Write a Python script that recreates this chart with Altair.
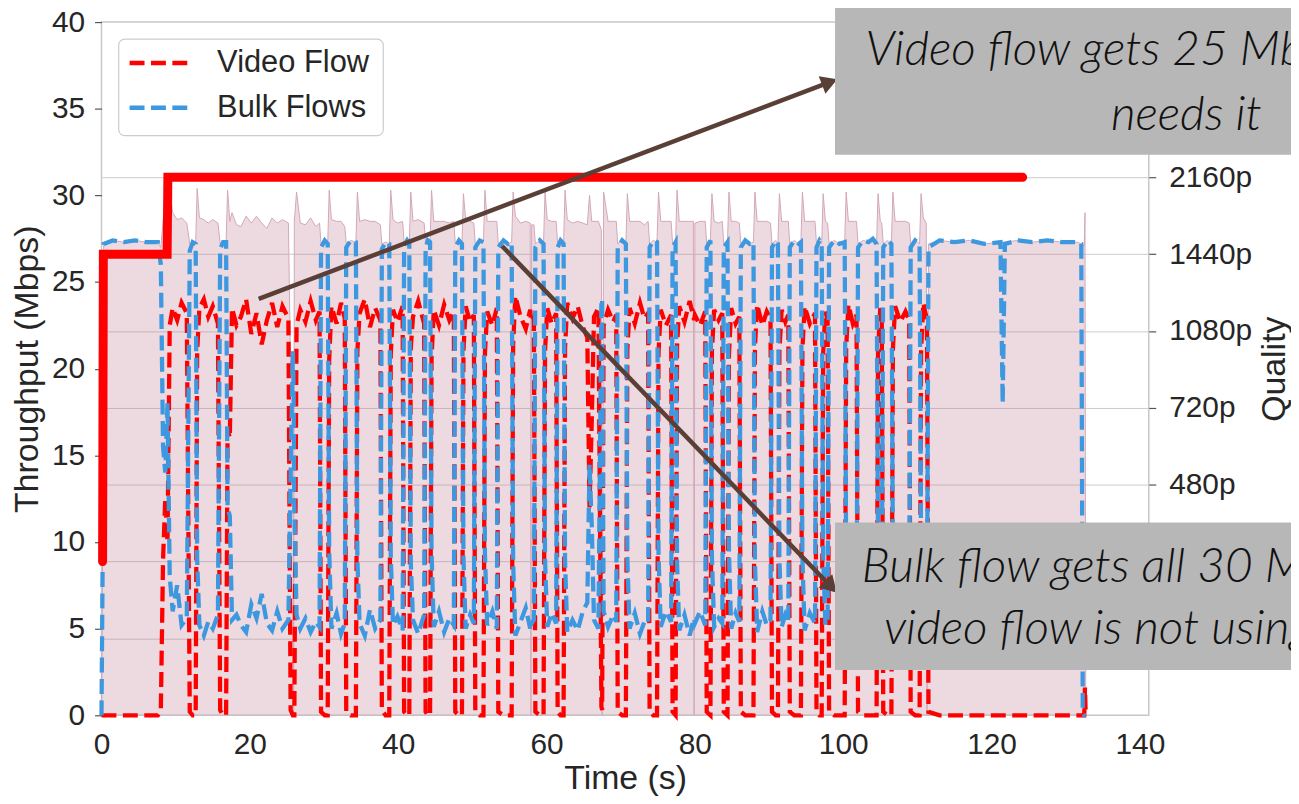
import altair as alt
import pandas as pd

# ------------------------------------------------------------------ data
time_s = [
    0.0, 0.15, 0.3, 1.5, 3.0, 4.5, 6.0, 7.6,
    8.0, 8.3, 8.6, 8.9, 9.2, 9.6, 10.2, 10.8, 11.5,
    11.9, 12.3, 12.7,
    12.9, 13.2, 13.8, 14.4, 15.0, 15.7,
    16.0, 16.4, 16.8,
    17.0, 17.3, 17.6, 18.2, 18.8, 19.5, 20.2, 20.9, 21.6, 22.3, 23.0, 23.7, 24.4, 25.2,
    25.5, 25.8, 25.9, 26.0, 26.3,
    26.8, 27.5, 28.2, 28.9, 29.4,
    29.6, 30.1, 30.5,
    30.7, 31.0, 31.7, 32.3, 32.8,
    33.0, 33.6, 34.3,
    34.5, 34.8, 35.5, 36.2, 36.9, 37.6,
    37.8, 38.3, 38.8,
    39.0, 39.3, 39.9, 40.6,
    40.8, 41.2, 41.5,
    41.7, 42.0, 42.7, 43.5,
    43.7, 44.0, 44.3,
    44.5, 44.8, 45.5, 46.2, 46.9, 47.5,
    47.7, 48.2, 48.6,
    48.8, 49.1, 49.7, 50.2,
    50.4, 51.0, 51.5,
    51.7, 52.0, 52.7, 53.3,
    53.5, 54.2, 54.8, 55.3,
    55.5, 55.8, 56.5, 57.2, 57.8, 57.9, 58.0, 58.3,
    58.5, 59.1, 59.6,
    59.8, 60.1, 60.7, 61.3,
    61.5, 61.9, 62.3,
    62.5, 62.8, 63.5, 64.2, 64.9, 65.5, 65.8, 66.1, 66.4, 67.0, 67.4, 67.5, 67.7, 68.3, 69.0, 69.4,
    69.6, 70.2, 70.7,
    70.9, 71.2, 71.9, 72.6, 73.2, 73.7,
    73.9, 74.4, 74.9,
    75.1, 75.4, 76.1, 76.8,
    77.0, 77.4,
    77.6, 77.9, 78.6, 79.3, 79.8, 79.9, 80.0, 80.7, 81.4,
    81.6, 82.1,
    82.3, 82.6, 83.2, 83.7,
    83.9, 84.4,
    84.6, 84.9, 85.5, 86.0,
    86.2, 86.8, 87.4, 87.9,
    88.1, 88.4, 89.1, 89.7, 90.2,
    90.4, 90.9, 91.2,
    91.4, 91.7, 92.2, 92.6,
    92.8, 93.4, 94.0, 94.3,
    94.5, 94.8, 95.5, 96.2,
    96.4, 96.8, 97.1,
    97.3, 97.6, 97.9,
    98.1, 98.8, 99.5, 100.2,
    100.4, 100.7, 101.3, 101.8,
    102.0, 102.7, 103.4, 104.0, 104.5,
    104.7, 105.0, 105.2,
    105.4, 106.0, 106.5,
    106.7, 107.0, 107.7, 108.4, 108.9,
    109.1, 109.7, 110.3,
    110.5, 110.8, 111.2, 111.3,
    111.5, 113.0, 115.0, 117.0, 119.0, 121.2, 121.5, 121.8, 123.5, 125.5, 127.5, 129.5, 131.5, 132.1, 132.3, 132.5, 132.6, 132.7,
]

video_mbps = [
    0, 0, 0, 0, 0, 0, 0, 0,
    0.3, 9.0, 12.5, 10.0, 22.5, 23.5, 22.8, 23.8, 23.2,
    0.2, 0, 0,
    21.0, 23.5, 24.0, 23.0, 23.6, 22.6,
    0.3, 0, 0,
    16.5, 16.0, 23.5, 22.5, 23.0, 24.0, 22.0, 23.2, 21.4, 22.8, 23.8, 22.4, 23.6, 22.9,
    0.3, 0, 0, 0, 22.5,
    23.4, 22.7, 23.9, 22.8, 23.3,
    0.2, 0, 0,
    20.5, 23.6, 22.6, 23.8, 22.9,
    0.2, 0, 0,
    21.0, 23.2, 24.0, 22.4, 23.5, 22.8,
    0.3, 0, 0,
    20.8, 23.4, 22.7, 23.6,
    0.2, 0, 0,
    21.2, 23.0, 23.9, 22.6,
    0.2, 0, 0,
    20.6, 23.4, 22.5, 23.7, 22.8, 23.3,
    0.2, 0, 0,
    21.0, 23.6, 22.7, 23.1,
    0.2, 0, 0,
    20.9, 23.3, 22.5, 23.5,
    0.2, 0, 0, 0,
    21.4, 24.2, 23.0, 22.3, 23.4, 22.8, 23.0, 22.9,
    0.2, 0, 0,
    21.0, 23.5, 22.6, 23.2,
    0.2, 0, 0,
    21.2, 23.8, 22.9, 23.6, 22.4, 21.8, 12.0, 17.0, 23.0, 23.5, 0.5, 0.3, 22.5, 23.4, 22.7, 23.1,
    0.2, 0, 0,
    21.1, 23.5, 22.6, 23.8, 22.9, 23.2,
    0.2, 0, 0,
    20.9, 23.4, 22.5, 23.1,
    0.2, 0,
    21.3, 23.6, 22.7, 23.9, 23.0, 22.8, 23.1, 22.5, 23.3,
    0.2, 0,
    21.0, 23.4, 22.8, 23.2,
    0.2, 0,
    20.8, 23.5, 22.6, 23.0,
    0.2, 0, 0, 0,
    21.2, 23.7, 22.5, 23.3, 22.9,
    0.2, 0, 0,
    21.0, 23.4, 22.7, 23.1,
    0.2, 0, 0, 0,
    21.1, 23.6, 22.6, 23.2,
    0.2, 0, 0,
    20.9, 23.3, 22.8,
    0.2, 0, 0, 0,
    21.2, 23.7, 22.6, 23.1,
    0.2, 0, 0, 0, 0,
    21.0, 23.5, 22.9,
    0.2, 0, 0,
    21.1, 23.6, 22.7, 23.3, 22.8,
    0.2, 0, 0,
    21.0, 23.8, 23.0, 22.5,
    0.2, 0, 0, 0, 0, 0, 0, 0, 0, 0, 0, 0, 0, 0, 0, 0, 1.6, 0,
]

bulk_mbps = [
    0, 8.5, 27.2, 27.4, 27.3, 27.4, 27.3, 27.3,
    26.0, 15.5, 14.0, 18.0, 8.0, 6.0, 7.5, 5.2, 5.6,
    26.8, 27.3, 27.2,
    9.0, 5.2, 4.6, 5.4, 5.0, 5.8,
    26.9, 27.3, 27.3,
    12.0, 11.5, 5.5, 5.8, 5.2, 4.8, 6.4, 5.6, 7.0, 5.3, 4.9, 6.0, 5.0, 5.5,
    14.0, 21.0, 19.0, 12.0, 5.8,
    5.0, 5.6, 4.8, 5.4, 5.1,
    27.0, 27.4, 27.2,
    9.5, 5.0, 5.9, 4.7, 5.3,
    27.0, 27.4, 27.3,
    9.0, 5.3, 4.6, 6.1, 5.0, 5.5,
    26.9, 27.3, 27.2,
    9.2, 5.2, 5.7, 4.9,
    27.1, 27.4, 27.2,
    8.8, 5.5, 4.7, 5.8,
    27.0, 27.4, 27.3,
    9.4, 5.1, 6.0, 4.8, 5.6, 5.2,
    27.0, 27.4, 27.2,
    9.1, 5.0, 5.8, 5.3,
    27.0, 27.4, 27.3,
    9.3, 5.2, 6.0, 5.0,
    27.0, 27.4, 27.2, 27.3,
    8.8, 4.6, 5.4, 6.2, 5.0, 5.4, 5.3, 5.5,
    27.0, 27.4, 27.2,
    9.0, 5.1, 5.9, 5.3,
    27.0, 27.4, 27.2,
    8.9, 4.8, 5.5, 4.9, 6.0, 6.5, 14.5, 11.0, 5.5, 5.0, 24.0, 24.0, 6.0, 5.1, 5.8, 5.4,
    27.0, 27.4, 27.2,
    9.0, 5.0, 5.9, 4.7, 5.4, 5.3,
    27.0, 27.4, 27.3,
    9.3, 5.1, 6.0, 5.4,
    27.0, 27.3,
    8.8, 4.9, 5.8, 4.6, 5.5, 5.6, 5.3, 6.0, 5.2,
    27.0, 27.4,
    9.1, 5.1, 5.6, 5.3,
    27.0, 27.3,
    9.4, 5.0, 5.9, 5.4,
    27.0, 27.4, 27.2, 27.3,
    8.9, 4.8, 6.0, 5.2, 5.5,
    27.0, 27.4, 27.2,
    9.0, 5.1, 5.8, 5.4,
    27.0, 27.4, 27.2, 27.3,
    9.1, 4.9, 5.9, 5.3,
    27.0, 27.4, 27.2,
    9.2, 5.2, 5.6,
    27.0, 27.4, 27.2, 27.3,
    8.9, 4.8, 5.9, 5.4,
    27.0, 27.4, 27.3, 27.5, 27.2,
    9.0, 5.0, 5.5,
    27.0, 27.4, 27.2,
    9.1, 4.9, 5.8, 5.2, 5.6,
    27.0, 27.4, 27.2,
    9.1, 4.9, 5.4, 5.6,
    27.0, 27.4, 27.3, 27.4, 27.2, 27.3, 18.0, 27.2, 27.4, 27.3, 27.4, 27.3, 27.3, 27.2, 0.2, 0, 0, 0,
]

total_mbps = [
    0, 8.5, 27.2, 27.4, 27.3, 27.4, 27.3, 27.3,
    27.0, 28.5, 29.5, 28.8, 30.3, 29.0, 28.6, 28.7, 28.4,
    27.2, 27.3, 27.2,
    30.4, 28.7, 28.6, 28.4, 28.6, 28.4,
    27.2, 27.3, 27.3,
    30.3, 28.5, 29.0, 28.3, 28.2, 28.8, 28.4, 28.8, 28.4, 28.1, 28.7, 28.4, 28.6, 28.4,
    20.0, 21.0, 0, 28.5, 30.2,
    28.4, 28.3, 28.7, 28.2, 28.4,
    27.2, 27.4, 27.2,
    30.3, 28.6, 28.5, 28.5, 28.2,
    27.2, 27.4, 27.3,
    30.2, 28.5, 28.6, 28.5, 28.5, 28.3,
    27.2, 27.3, 27.2,
    30.3, 28.6, 28.4, 28.5,
    27.3, 27.4, 27.2,
    30.2, 28.5, 28.6, 28.4,
    27.2, 27.4, 27.3,
    30.3, 28.5, 28.5, 28.5, 28.4, 28.5,
    27.2, 27.4, 27.2,
    30.1, 28.6, 28.5, 28.4,
    27.2, 27.4, 27.3,
    30.3, 28.5, 28.5, 28.5,
    27.2, 27.4, 27.2, 27.3,
    30.2, 28.8, 28.4, 28.5, 28.4, 0, 28.3, 28.3,
    27.2, 27.4, 27.2,
    30.2, 28.6, 28.5, 28.5,
    27.2, 27.4, 27.2,
    30.3, 28.6, 28.4, 28.5, 28.4, 28.3, 30.0, 28.5, 28.5, 28.5, 28.0, 0, 30.2, 28.5, 28.5, 28.5,
    27.2, 27.4, 27.2,
    30.1, 28.5, 28.5, 28.5, 28.3, 28.5,
    27.2, 27.4, 27.3,
    30.2, 28.5, 28.5, 28.5,
    27.2, 27.3,
    30.3, 28.5, 28.5, 28.5, 28.5, 0, 28.4, 28.5, 28.5,
    27.2, 27.4,
    30.1, 28.5, 28.4, 28.5,
    27.2, 27.3,
    30.2, 28.5, 28.5, 28.4,
    27.2, 27.4, 27.2, 27.3,
    30.2, 28.5, 28.5, 28.5, 28.4,
    27.2, 27.4, 27.2,
    30.1, 28.5, 28.5, 28.5,
    27.2, 27.4, 27.2, 27.3,
    30.2, 28.5, 28.5, 28.5,
    27.2, 27.4, 27.2,
    30.1, 28.5, 28.4,
    27.2, 27.4, 27.2, 27.3,
    30.2, 28.5, 28.5, 28.5,
    27.2, 27.4, 27.3, 27.5, 27.2,
    30.1, 28.5, 28.4,
    27.2, 27.4, 27.2,
    30.2, 28.5, 28.5, 28.5, 28.4,
    27.2, 27.4, 27.2,
    30.1, 28.7, 28.4, 0,
    27.2, 27.4, 27.3, 27.4, 27.2, 27.3, 27.3, 27.3, 27.4, 27.3, 27.4, 27.3, 27.3, 27.2, 27.1, 27.1, 29.0, 0,
]

quality_time_s = [0.15, 0.25, 8.85, 8.95, 124.2]
quality_level = [2, 6, 6, 7, 7]
quality_ticks = [1, 2, 3, 4, 5, 6, 7]
quality_labels = ["240p", "360p", "480p", "720p", "1080p", "1440p", "2160p"]

throughput_ticks = [0, 5, 10, 15, 20, 25, 30, 35, 40]
time_ticks = [0, 20, 40, 60, 80, 100, 120, 140]

series_names = ["Video Flow", "Bulk Flows"]
series_colors = ["#ff0000", "#3d98e0"]

note_top_lines = ["Video flow gets 25 Mbps when it", "needs it"]
note_bottom_lines = ["Bulk flow gets all 30 Mbps when", "video flow is not using it"]

assert len(time_s) == len(video_mbps) == len(bulk_mbps) == len(total_mbps)

# ------------------------------------------------------------------ style
FONT = "Liberation Sans"
TXT = "#262626"
X_DOMAIN = [0, 141.2]
Y_DOMAIN = [0, 40]
Q_DOMAIN = [0, 9.02]
DASH = [15, 6.5]
BROWN = "#5a3f36"

df = pd.DataFrame({"t": time_s, "video": video_mbps, "bulk": bulk_mbps, "total": total_mbps})
qdf = pd.DataFrame({"t": quality_time_s, "q": quality_level, "i": list(range(len(quality_time_s)))})

x_axis = alt.Axis(values=time_ticks, title="Time (s)", grid=False, domain=False, ticks=False,
                  tickSize=0, labelPadding=14, labelFlush=False, labelFontSize=30, labelFont=FONT,
                  labelColor=TXT, titleFontSize=34, titleFont=FONT, titleColor=TXT,
                  titleFontWeight="normal", titlePadding=3)
y_axis = alt.Axis(values=throughput_ticks, title="Throughput (Mbps)", grid=False, domain=False,
                  tickSize=7, tickColor="#555555", tickWidth=1.2, labelPadding=10, labelFontSize=30,
                  labelFont=FONT, labelColor=TXT, titleFontSize=34, titleFont=FONT, titleColor=TXT,
                  titleFontWeight="normal", titlePadding=7)

x_scale = alt.Scale(domain=X_DOMAIN, nice=False, zero=False)
y_scale = alt.Scale(domain=Y_DOMAIN, nice=False)

x_enc = alt.X("t:Q", scale=x_scale, axis=x_axis)

area = alt.Chart(df).mark_area(
    fill="#c07a95", fillOpacity=0.28,
    line={"color": "#d3a7b8", "strokeWidth": 1},
).encode(x=x_enc, y=alt.Y("total:Q", scale=y_scale, axis=y_axis, stack=None))

video = alt.Chart(df).mark_line(color=series_colors[0], strokeWidth=4.3, strokeDash=DASH).encode(
    x=x_enc, y=alt.Y("video:Q", scale=y_scale, axis=y_axis))
bulk = alt.Chart(df).mark_line(color=series_colors[1], strokeWidth=4.3, strokeDash=DASH).encode(
    x=x_enc, y=alt.Y("bulk:Q", scale=y_scale, axis=y_axis))

base = alt.layer(area, video, bulk)

label_expr = "[" + ",".join("'%s'" % s for s in quality_labels) + "][datum.value - 1]"
q_axis = alt.Axis(orient="right", values=quality_ticks, labelExpr=label_expr, grid=True,
                  gridColor="#cccccc", gridWidth=1, domain=False, tickSize=7, tickColor="#555555",
                  tickWidth=1.2, labelPadding=13, labelFontSize=30, labelFont=FONT, labelColor=TXT,
                  title="Quality", titleAngle=270, titleBaseline="top", titleFontSize=34,
                  titleFont=FONT, titleColor=TXT, titleFontWeight="normal", titlePadding=6)

quality = alt.Chart(qdf).mark_line(color="#ff0000", strokeWidth=9, strokeCap="round",
                                   strokeJoin="miter").encode(
    x=alt.X("t:Q", scale=x_scale, axis=None),
    y=alt.Y("q:Q", scale=alt.Scale(domain=Q_DOMAIN, nice=False, zero=False), axis=q_axis),
    order="i:Q",
)

# ------------------------------------------------------------------ annotations (data coords)
ax = lambda f: alt.X(f, scale=x_scale, axis=None)
ay = lambda f: alt.Y(f, scale=y_scale, axis=None)

legend_box = alt.Chart(pd.DataFrame({"t": [2.32], "t2": [37.99], "y": [39.02], "y2": [33.45]})).mark_rect(
    fill="white", stroke="#cccccc", strokeWidth=1.2, cornerRadius=6
).encode(x=ax("t:Q"), x2="t2:Q", y=ay("y:Q"), y2="y2:Q")

leg_df = pd.DataFrame({"t": [3.79, 3.79], "t2": [12.10, 12.10], "y": [37.64, 35.06],
                       "lab_t": [15.59, 15.59], "name": series_names, "col": series_colors})
legend_lines = alt.Chart(leg_df).mark_rule(strokeWidth=4.5, strokeDash=DASH).encode(
    x=ax("t:Q"), x2="t2:Q", y=ay("y:Q"), color=alt.Color("col:N", scale=None))
legend_text = alt.Chart(leg_df).mark_text(align="left", baseline="middle", font=FONT,
                                          fontSize=31, color=TXT).encode(
    x=ax("lab_t:Q"), y=ay("y:Q"), text="name:N")

boxes = alt.Chart(pd.DataFrame({"t": [98.9, 98.9], "t2": [161.0, 161.0],
                                "y": [40.9, 11.12], "y2": [32.35, 2.62]})).mark_rect(
    fill="#b7b7b7").encode(x=ax("t:Q"), x2="t2:Q", y=ay("y:Q"), y2="y2:Q")

notes = pd.DataFrame({
    "t": [103.0, 136.1, 102.5, 105.5],
    "y": [37.5, 33.75, 7.7, 4.1],
    "txt": note_top_lines + note_bottom_lines,
})
note_text = alt.Chart(notes).mark_text(align="left", baseline="alphabetic", font="Lato",
                                       fontStyle="italic", fontWeight=300, fontSize=48,
                                       color="#111111").encode(
    x=ax("t:Q"), y=ay("y:Q"), text="txt:N")

arrows = pd.DataFrame({"t": [21.2, 54.0], "y": [24.03, 27.08],
                       "t2": [97.84, 98.12], "y2": [36.48, 7.53], "ang": [69.2, 136.0]})
arrow_lines = alt.Chart(arrows).mark_rule(color=BROWN, strokeWidth=4.5).encode(
    x=ax("t:Q"), x2="t2:Q", y=ay("y:Q"), y2="y2:Q")
arrow_heads = alt.Chart(arrows).mark_point(shape="triangle", filled=True, size=360,
                                           color=BROWN, opacity=1).encode(
    x=ax("t2:Q"), y=ay("y2:Q"), angle=alt.Angle("ang:Q", scale=None))

annot = alt.layer(legend_box, legend_lines, legend_text, arrow_lines, arrow_heads, boxes, note_text)

chart = alt.layer(base, quality, annot).resolve_scale(
    x="independent", y="independent"
).properties(
    width=1053, height=697,
    autosize=alt.AutoSizeParams(type="none"),
    padding={"left": 94, "top": 12, "right": 143, "bottom": 79},
    background="white",
).configure_view(stroke="#c8c8c8", strokeWidth=1.5)

chart.save("out.html", embed_options={"renderer": "svg", "actions": False})
